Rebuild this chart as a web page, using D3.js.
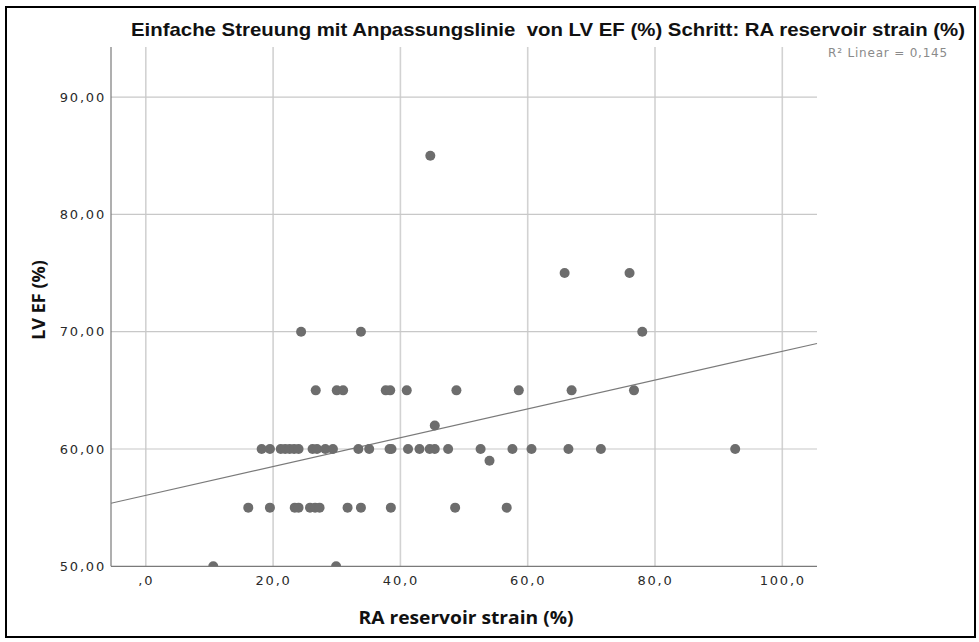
<!DOCTYPE html>
<html>
<head>
<meta charset="utf-8">
<script src="https://cdn.jsdelivr.net/npm/d3@7"></script>
<style>
  html, body { margin: 0; padding: 0; background: #fff; }
  svg { display: block; }
</style>
</head>
<body>
<svg id="chart" width="979" height="642"></svg>
<script>
// ---- data ----
const titleText = "Einfache Streuung mit Anpassungslinie  von LV EF (%) Schritt: RA reservoir strain (%)";
const xLabel = "RA reservoir strain (%)";
const yLabel = "LV EF (%)";
const r2Label = "R² Linear = 0,145";

const xTicks = [0, 20, 40, 60, 80, 100];
const xTickLabels = [",0", "20,0", "40,0", "60,0", "80,0", "100,0"];
const yTicks = [50, 60, 70, 80, 90];
const yTickLabels = ["50,00", "60,00", "70,00", "80,00", "90,00"];

// RA reservoir strain (x) and LV EF (y), per point
const strainValues = [
  // LV EF 60
  18.2, 19.5, 21.2, 21.9, 22.6, 23.3, 24.0, 26.2, 26.9, 28.2, 29.4, 33.4, 35.1,
  38.3, 38.6, 41.2, 43.0, 44.6, 45.4, 47.5, 52.6, 57.6, 60.6, 66.4, 71.5, 92.6,
  // LV EF 55
  16.1, 19.5, 23.4, 24.0, 25.8, 26.6, 27.3, 31.7, 33.8, 38.5, 48.6, 56.7,
  // LV EF 65
  26.7, 30.0, 31.0, 37.7, 38.4, 41.0, 48.8, 58.6, 66.9, 76.7,
  // LV EF 70
  24.4, 33.8, 78.0,
  // LV EF 75
  65.8, 76.0,
  // LV EF 85
  44.7,
  // LV EF 62 / 59
  45.4, 54.0,
  // LV EF 50
  10.6, 29.9
];
const efValues = [
  60,60,60,60,60,60,60,60,60,60,60,60,60,
  60,60,60,60,60,60,60,60,60,60,60,60,60,
  55,55,55,55,55,55,55,55,55,55,55,55,
  65,65,65,65,65,65,65,65,65,65,
  70,70,70,
  75,75,
  85,
  62,59,
  50,50
];

// fitted line end points (x, y)
const fitX = [-5.47, 105.45];
const fitY = [55.38, 69.0];

// ---- layout ----
const svg = d3.select("#chart");
const x = d3.scaleLinear().domain([0, 100]).range([145.8, 782.3]);
const y = d3.scaleLinear().domain([50, 90]).range([566.3, 97.1]);
const plot = { left: 111, right: 817, top: 47, bottom: 566.3 };

// outer frame
svg.append("rect")
  .attr("x", 6).attr("y", 7).attr("width", 969).attr("height", 630)
  .attr("fill", "none").attr("stroke", "#000").attr("stroke-width", 2);

// clip
svg.append("defs").append("clipPath").attr("id", "plotclip")
  .append("rect")
  .attr("x", plot.left).attr("y", plot.top)
  .attr("width", plot.right - plot.left).attr("height", plot.bottom - plot.top);

// gridlines
const grid = svg.append("g");
grid.selectAll("line.vx").data(xTicks).join("line")
  .attr("class", "vx")
  .attr("x1", d => x(d)).attr("x2", d => x(d))
  .attr("y1", plot.top).attr("y2", plot.bottom)
  .attr("stroke", "#d2d2d2").attr("stroke-width", 1.6);
grid.selectAll("line.hy").data(yTicks.filter(d => d > 50)).join("line")
  .attr("class", "hy")
  .attr("x1", plot.left).attr("x2", plot.right)
  .attr("y1", d => y(d)).attr("y2", d => y(d))
  .attr("stroke", "#c8c8c8").attr("stroke-width", 1.2);

// axes
const yAxis = d3.axisLeft(y).tickValues(yTicks).tickSize(0)
  .tickFormat((d, i) => yTickLabels[i]).tickPadding(5);
const xAxis = d3.axisBottom(x).tickValues(xTicks).tickSize(0)
  .tickFormat((d, i) => xTickLabels[i]).tickPadding(9);

const gy = svg.append("g").attr("transform", `translate(${plot.left},0)`).call(yAxis);
const gx = svg.append("g").attr("transform", `translate(0,${plot.bottom})`).call(xAxis);
[gx, gy].forEach(g => {
  g.select(".domain").attr("stroke", "#7a7a7a").attr("stroke-width", 1.2);
  g.selectAll("text")
    .attr("fill", "#2a2a2a")
    .style("font-family", "'DejaVu Sans', Verdana, sans-serif")
    .style("font-size", "13px")
    .style("letter-spacing", "1.8px");
});
gy.select(".domain").attr("d", `M0,${plot.top}V${plot.bottom}`);
gx.select(".domain").attr("d", `M${plot.left},0H${plot.right}`);

// fit line
svg.append("line")
  .attr("x1", x(fitX[0])).attr("y1", y(fitY[0]))
  .attr("x2", x(fitX[1])).attr("y2", y(fitY[1]))
  .attr("stroke", "#7a7a7a").attr("stroke-width", 1.1);

// points
svg.append("g").attr("clip-path", "url(#plotclip)")
  .selectAll("circle").data(strainValues.map((v, i) => [v, efValues[i]])).join("circle")
  .attr("cx", d => x(d[0])).attr("cy", d => y(d[1]))
  .attr("r", 5)
  .attr("fill", "#6d6d6d");

// title
svg.append("text")
  .attr("x", 548).attr("y", 36)
  .attr("text-anchor", "middle")
  .style("white-space", "pre")
  .style("font-family", "'Liberation Sans', Arial, sans-serif")
  .style("font-weight", "bold")
  .style("font-size", "19px")
  .attr("fill", "#111")
  .attr("textLength", 834).attr("lengthAdjust", "spacingAndGlyphs")
  .text(titleText);

// R² label
svg.append("text")
  .attr("x", 948).attr("y", 57)
  .attr("text-anchor", "end")
  .style("font-family", "'DejaVu Sans', Verdana, sans-serif")
  .style("font-size", "12px")
  .style("letter-spacing", "0.8px")
  .attr("fill", "#8a8a8a")
  .text(r2Label);

// axis titles
svg.append("text")
  .attr("x", 466).attr("y", 624)
  .attr("text-anchor", "middle")
  .style("font-family", "'Open Sans', 'DejaVu Sans', sans-serif")
  .style("font-weight", "bold")
  .style("font-size", "18px")
  .attr("fill", "#111")
  .attr("textLength", 215).attr("lengthAdjust", "spacingAndGlyphs")
  .text(xLabel);

svg.append("text")
  .attr("transform", "translate(45,300) rotate(-90)")
  .attr("text-anchor", "middle")
  .style("font-family", "'Open Sans', 'DejaVu Sans', sans-serif")
  .style("font-weight", "bold")
  .style("font-size", "18px")
  .attr("fill", "#111")
  .text(yLabel);
</script>
</body>
</html>
